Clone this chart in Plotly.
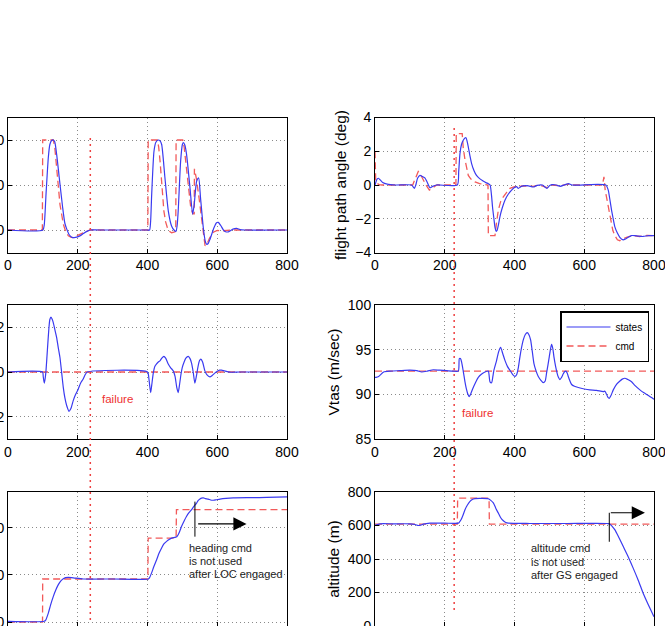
import plotly.graph_objects as go

# ---------------- data ----------------
# top-left (left y labels cropped)
tl_state_t = [0, 100, 104, 109, 115.6, 120, 125, 130, 134, 139.5, 147, 156.7, 163, 168, 175, 182.5, 190, 197, 206, 216, 226, 236, 260,
              400, 406, 409, 412, 418.6, 424, 431, 436, 440.6, 450, 459.7, 469, 476, 481.7, 485, 488, 495, 500, 503, 507, 512, 521.8,
              529.4, 534, 541, 546.6, 552, 560, 566, 570, 574, 579, 590.6, 598, 603, 610, 617, 624, 631.7, 645, 655.6, 665, 680, 800]
tl_state_v = [0, 0, 1.2, 7.9, 16.1, 19, 19.9, 20, 19.6, 16.8, 11.6, 5, 1.5, 0.3, -1.0, -1.6, -1.7, -1.6, -1.3, -0.8, -0.3, 0, 0,
              0, 0, 2, 7.9, 17.5, 19.5, 20, 19.8, 19, 11.6, 4.2, 0.9, 0, -0.3, 1, 4.2, 15.3, 19, 19.4, 18.9, 16.8, 9.4,
              3.5, 5.7, 10.9, 11.6, 7.2, 0.5, -2.6, -3.2, -3.0, -2.1, 0.5, 1.6, 1.7, 1.0, 0.1, -0.4, -0.4, 0.2, 0.35, 0.1, 0, 0]
tl_cmd_t = [0, 98.5, 99.5, 130, 134, 139.5, 149, 158.6, 166, 173, 180, 187, 195, 201.6, 210, 220.8, 235,
            401, 402, 428, 432, 436, 441, 447, 452, 457, 463, 469, 476, 481, 482, 501, 505, 510, 517, 524, 530, 534,
            534.5, 540, 548, 556, 561, 565, 570, 578, 588.7, 600, 612, 625, 640, 800]
tl_cmd_v = [0, 0, 20, 20, 18.5, 13.1, 5.7, 1.3, -0.5, -1.3, -1.6, -1.7, -1.5, -1.1, -0.8, -0.4, 0,
            0, 20, 20, 18.5, 15.3, 9.4, 4.2, 1.8, 0.5, -0.3, -0.6, -0.5, -0.3, 20, 20, 18.5, 15.3, 10.1, 5, 3.6, 3.6,
            13.6, 11.5, 7, 1.5, -2, -3.5, -3.2, -1.8, -0.5, -0.1, -0.2, -0.1, 0, 0]

# top-right: flight path angle (deg)
tr_state_t = [0, 3, 6, 10, 15, 22, 35, 60, 105, 109, 113, 117, 122, 129, 136, 143, 150, 157.7, 165, 177, 236, 240, 243.6, 248, 253,
              258, 261, 264, 267.5, 272, 277, 284, 291, 300, 310, 318, 325, 330, 334, 337, 341, 344, 347.5, 350, 354, 358, 365,
              372.6, 382, 391.7, 400, 406, 411, 418, 425, 440, 454, 465, 480, 493, 500, 507, 520, 531, 545, 555, 565, 662,
              668.8, 673, 678.4, 683, 688, 695, 702, 711.6, 718, 725.9, 735, 745, 755, 769, 785, 800]
tr_state_v = [0, 0.2, 0.35, 0.4, 0.3, 0.15, 0.05, 0, 0, -0.1, -0.2, 0, 0.4, 0.57, 0.5, 0.42, 0.15, -0.16, -0.08, 0, 0, 0.8, 1.86, 2.4, 2.65,
              2.78, 2.8, 2.6, 2.26, 1.75, 1.27, 0.85, 0.57, 0.38, 0.24, 0.14, 0.08, 0, -0.6, -1.3, -2.0, -2.5, -2.75, -2.7, -2.35, -1.9, -1.35,
              -0.9, -0.55, -0.3, -0.15, -0.1, -0.2, -0.1, -0.05, -0.05, -0.12, -0.02, 0, -0.2, -0.05, 0.02, 0, -0.08, 0.02, 0.08, 0, 0,
              -0.3, -0.8, -1.5, -2.0, -2.5, -2.85, -3.1, -3.25, -3.2, -3.1, -3.0, -3.0, -3.03, -3.05, -3.0, -3.0]
tr_cmd_t = [0, 2, 5, 12, 20, 108, 112, 118, 124, 130, 138, 146, 155.8, 163, 170, 177, 232, 233, 250, 253, 258, 263, 267.5, 275, 286.6,
            300, 310.5, 324, 325, 344, 348, 353.5, 360, 367.9, 377, 387, 400, 411, 420, 454, 470, 493, 507, 531, 555, 565, 652,
            656.5, 660, 668, 675.7, 682, 688, 695, 702, 712, 721, 740, 759, 780, 800]
tr_cmd_v = [2.0, 0.3, 0.1, 0.02, 0, 0, 0.2, 0.55, 0.8, 0.65, 0.3, 0, -0.3, -0.2, -0.05, 0, 0, 3.05, 3.05, 2.2, 1.5, 1.0, 0.57, 0.35, 0.18,
            0.08, 0.04, 0, -3.0, -3.0, -2.3, -1.5, -1.0, -0.7, -0.45, -0.2, -0.1, -0.15, -0.05, -0.08, 0, -0.15, 0, -0.05, 0.05, 0, 0,
            0.48, -0.3, -1.2, -2.1, -2.7, -3.0, -3.25, -3.3, -3.2, -3.1, -3.0, -3.05, -2.98, -3.0]

# middle-left (left y labels cropped)
ml_state_t = [0, 99, 101, 104, 106.5, 109, 113, 117, 120, 123.3, 127, 130, 135, 139.5, 144, 149, 154, 158.6, 163, 168.2, 174.9, 180,
              187.3, 194, 201.6, 208, 215.9, 222, 227.4, 400, 404, 409, 412, 416.6, 421, 426, 431, 435.7, 441, 447, 452, 459.5,
              466, 473.8, 479, 484, 488, 492, 496, 499.6, 505, 510, 516.8, 522, 526.3, 531, 535.8, 540, 545, 549, 553, 558,
              564.5, 570, 578.8, 586, 593, 600, 607, 612.2, 620, 636, 665, 800]
ml_state_v = [0, 0, -0.2, -0.5, -0.3, 0.06, 1.0, 1.9, 2.35, 2.46, 2.35, 2.2, 1.85, 1.54, 1.1, 0.65, -0.05, -0.7, -1.15, -1.5, -1.76, -1.65,
              -1.27, -1.0, -0.76, -0.5, -0.3, -0.1, 0, 0, -0.3, -0.92, -0.6, -0.05, 0.25, 0.36, 0.45, 0.5, 0.62, 0.7, 0.62, 0.36,
              0.2, 0.05, -0.2, -0.7, -0.92, -0.55, -0.1, 0.2, 0.45, 0.62, 0.7, 0.6, 0.4, 0.0, -0.5, -0.2, 0.25, 0.5, 0.58, 0.45,
              0.05, -0.12, -0.22, -0.15, -0.05, 0.03, 0.08, 0.08, 0.05, -0.01, 0, 0]
ml_cmd_t = [0, 800]
ml_cmd_v = [0, 0]

# middle-right: Vtas (m/sec)
mr_state_t = [0, 3, 10.5, 24.8, 43.9, 70, 100, 120, 133.8, 150, 167.2, 185, 205, 224.5, 238.9, 241.8, 245, 248.4, 253, 258, 262, 265.6,
              270.4, 275, 279.9, 288, 296.2, 305, 315.3, 324.8, 329.7, 334.4, 338, 341, 348.7, 354, 360.2, 366, 372.6, 380, 386.9,
              395, 401.3, 406, 411, 415.6, 420, 425.2, 431, 436.6, 441, 446.2, 451, 455.8, 462, 468.2, 475, 482.6, 488, 492, 496,
              499.7, 503, 506.4, 510, 513.1, 518, 522.7, 526, 530.3, 535, 539.9, 544, 547.5, 551, 554.2, 559, 563.8, 572, 582.9,
              600, 616.3, 635, 654.5, 659.3, 664, 668, 671.7, 677, 683.2, 692, 702.3, 709, 716.6, 725, 735.7, 745, 759.6, 770,
              785, 797.8, 800]
mr_state_v = [91.9, 91.9, 92.0, 92.5, 92.6, 92.65, 92.7, 92.65, 92.5, 92.6, 92.75, 92.7, 92.65, 92.6, 92.6, 94.0, 94.0, 93.6, 92.6, 91.4,
              90.6, 90.1, 89.75, 90.1, 90.6, 91.3, 91.9, 92.25, 92.5, 92.6, 91.4, 91.3, 92.0, 92.7, 93.8, 94.7, 95.25, 94.6, 93.8,
              93.1, 92.7, 92.2, 92.0, 92.2, 93.0, 94.2, 95.2, 96.1, 96.7, 96.9, 96.7, 96.1, 94.8, 93.45, 92.6, 92.0, 91.6, 91.3,
              91.5, 92.4, 93.3, 94.2, 95.0, 95.6, 95.1, 94.2, 93.1, 92.3, 91.9, 91.65, 91.9, 92.3, 92.55, 92.6, 92.4, 92.0, 91.5,
              91.1, 90.9, 90.76, 90.6, 90.5, 90.45, 90.3, 90.35, 90.0, 89.65, 89.55, 89.9, 90.5, 91.1, 91.5, 91.7, 91.8, 91.65,
              91.4, 91.0, 90.5, 90.2, 89.85, 89.5, 89.45]
mr_cmd_t = [0, 800]
mr_cmd_v = [92.6, 92.6]

# bottom-left (left y labels cropped)
bl_state_t = [0, 104, 108, 115.6, 122, 130, 137, 144.3, 151, 158.6, 165, 172.9, 182, 192, 215.9, 300, 402.3, 406, 411.8, 418, 426.2,
              433, 440.5, 447, 454.8, 462, 469.2, 478.7, 484, 488.3, 493, 497.8, 505, 512.1, 519, 526.5, 533, 540.8, 545, 550.4,
              555, 559.9, 566, 574.3, 581, 588.6, 597, 607.7, 625, 645.9, 700, 741.4, 800]
bl_state_v = [0.3, 0.3, 0.8, 3.8, 7.2, 10.9, 13.6, 15.9, 17.4, 18.4, 18.9, 19.0, 18.9, 18.7, 18.3, 18.3, 18.3, 18.9, 20.9, 23.5, 26.5,
              29.2, 31.5, 33.2, 34.3, 35.1, 35.7, 36, 36.3, 37.2, 38.8, 40.7, 43.0, 45, 46.5, 47.8, 49.2, 50.6, 51.6, 52.3,
              52.7, 52.8, 52.5, 52.3, 51.9, 51.8, 52.0, 52.3, 52.6, 52.8, 52.9, 53, 53.2]
bl_cmd_t = [0, 99, 99.5, 401, 402, 482, 483, 800]
bl_cmd_v = [0, 0, 18.3, 18.3, 35.7, 35.7, 47.8, 47.8]

# bottom-right: altitude (m)
br_state_t = [0, 2, 14.3, 50, 100, 115, 124, 131, 138.4, 157.6, 200, 239, 242, 246.6, 252, 258, 265, 272.4, 279, 286.7, 300, 324.9,
              332, 339.3, 346, 353.6, 360, 368, 375, 382.3, 444.4, 550, 664.2, 668, 673.8, 680, 688, 700, 711.9, 725, 740.6, 755,
              769.2, 783, 797.9, 800]
br_state_v = [600, 602, 610, 610, 610, 606, 600, 602, 608, 614, 614, 614, 620, 634, 660, 694, 722, 744, 755, 760, 762, 760,
              750, 735, 705, 674, 648, 628, 618, 614, 612, 612, 612, 611, 608, 595, 574, 525, 474, 418, 344, 272,
              194, 130, 64, 55]
br_cmd_t = [0, 236, 237, 327, 328, 800]
br_cmd_v = [608, 608, 764, 764, 608, 608]

# event / annotation positions (data units)
failure_t_left = 236
failure_t_right = 227
bl_marker_t, bl_marker_y = 536, [36.3, 51.2]
bl_arrow_t, bl_arrow_y = [541, 684], 41.7
br_marker_t, br_marker_y = 671.8, [503, 676]
br_arrow_t, br_arrow_y = [671.8, 774], 676
bl_note = ["heading cmd", "is not used", "after LOC engaged"]
bl_note_t, bl_note_y = 512, [31.4, 26.0, 20.3]
br_note = ["altitude cmd", "is not used", "after GS engaged"]
br_note_t, br_note_y = 442, [464, 384, 304]
fail_ml = (264, -1.2)
fail_mr = (244, 87.9)

# ---------------- styling ----------------
W, H = 665, 626
BLUE = "#3a3af0"
RED = "#f25a5a"
FONT = "Liberation Sans, Arial, Helvetica, sans-serif"

def px_x(a, b):
    return [a / W, b / W]

def px_y(top, bottom):
    return [(H - bottom) / H, (H - top) / H]

xdom_l = px_x(8, 287)
xdom_r = px_x(375, 654)
ydom = [px_y(117.5, 252.5), px_y(305, 439), px_y(492, 626)]

fig = go.Figure()

panels = [
    ("x", "y", tl_state_t, tl_state_v, tl_cmd_t, tl_cmd_v, False),
    ("x2", "y2", tr_state_t, tr_state_v, tr_cmd_t, tr_cmd_v, False),
    ("x3", "y3", ml_state_t, ml_state_v, ml_cmd_t, ml_cmd_v, False),
    ("x4", "y4", mr_state_t, mr_state_v, mr_cmd_t, mr_cmd_v, True),
    ("x5", "y5", bl_state_t, bl_state_v, bl_cmd_t, bl_cmd_v, False),
    ("x6", "y6", br_state_t, br_state_v, br_cmd_t, br_cmd_v, False),
]
for xa, ya, st, sv, ct, cv, leg in panels:
    fig.add_trace(go.Scatter(x=ct, y=cv, xaxis=xa, yaxis=ya, mode="lines", name="cmd",
                             line=dict(color=RED, width=1.3, dash="7px,4px"), showlegend=leg, legendrank=2))
    fig.add_trace(go.Scatter(x=st, y=sv, xaxis=xa, yaxis=ya, mode="lines", name="states",
                             line=dict(color=BLUE, width=1.2, shape="spline", smoothing=0.6),
                             showlegend=leg, legendrank=1))

def axis(domain, anchor, rng, tickvals, title=None):
    d = dict(domain=domain, anchor=anchor, range=rng, tickvals=tickvals,
             showline=True, mirror=True, linecolor="black", linewidth=1,
             ticks="inside", ticklen=4, tickcolor="black",
             showgrid=True, gridcolor="#8a8a8a", griddash="1px,3px", gridwidth=1,
             zeroline=False, automargin=False, ticklabeloverflow="allow",
             tickfont=dict(family=FONT, size=14, color="black"))
    if title:
        d["title"] = dict(text=title, font=dict(family=FONT, size=15.5, color="black"), standoff=4)
    return d

xt = [0, 200, 400, 600, 800]
layout = dict(
    width=W, height=H, margin=dict(l=0, r=0, t=0, b=0),
    paper_bgcolor="white", plot_bgcolor="white", template="none",
    font=dict(family=FONT, color="black"),
    xaxis=axis(xdom_l, "y", [0, 800], xt),
    yaxis=axis(ydom[0], "x", [-5, 25], [0, 10, 20]),
    xaxis2=axis(xdom_r, "y2", [0, 800], xt),
    yaxis2=axis(ydom[0], "x2", [-4, 4], [-4, -2, 0, 2, 4], "flight path angle (deg)"),
    xaxis3=axis(xdom_l, "y3", [0, 800], xt),
    yaxis3=axis(ydom[1], "x3", [-3, 3], [-2, 0, 2]),
    xaxis4=axis(xdom_r, "y4", [0, 800], xt),
    yaxis4=axis(ydom[1], "x4", [85, 100], [85, 90, 95, 100], "Vtas (m/sec)"),
    xaxis5=axis(xdom_l, "y5", [0, 800], xt),
    yaxis5=axis(ydom[2], "x5", [-1.7, 55.3], [0, 20, 40]),
    xaxis6=axis(xdom_r, "y6", [0, 800], xt),
    yaxis6=axis(ydom[2], "x6", [0, 800], [0, 200, 400, 600, 800], "altitude (m)"),
    legend=dict(x=560 / W, y=(H - 311) / H, xanchor="left", yanchor="top",
                bgcolor="white", bordercolor="black", borderwidth=1.5,
                font=dict(family=FONT, size=10, color="black"), traceorder="normal",
                itemwidth=44, tracegroupgap=0),
)
fig.update_layout(**layout)

shapes = [
    dict(type="line", xref="x", yref="paper", x0=failure_t_left, x1=failure_t_left,
         y0=(H - 620) / H, y1=(H - 136.7) / H, line=dict(color="#ee4040", width=1.5, dash="2px,4px"), layer="above"),
    dict(type="line", xref="x2", yref="paper", x0=failure_t_right, x1=failure_t_right,
         y0=(H - 610) / H, y1=(H - 126.7) / H, line=dict(color="#ee4040", width=1.5, dash="2px,4px"), layer="above"),
    dict(type="line", xref="x5", yref="y5", x0=bl_marker_t, x1=bl_marker_t, y0=bl_marker_y[0], y1=bl_marker_y[1],
         line=dict(color="black", width=1)),
    dict(type="line", xref="x6", yref="y6", x0=br_marker_t, x1=br_marker_t, y0=br_marker_y[0], y1=br_marker_y[1],
         line=dict(color="black", width=1)),
]
fig.update_layout(shapes=shapes)

ann = []
ann.append(dict(xref="x5", yref="y5", axref="x5", ayref="y5", x=bl_arrow_t[1], y=bl_arrow_y,
                ax=bl_arrow_t[0], ay=bl_arrow_y, text="", showarrow=True, arrowhead=2,
                arrowsize=2.2, arrowwidth=1.2, arrowcolor="black"))
ann.append(dict(xref="x6", yref="y6", axref="x6", ayref="y6", x=br_arrow_t[1], y=br_arrow_y,
                ax=br_arrow_t[0], ay=br_arrow_y, text="", showarrow=True, arrowhead=2,
                arrowsize=2.2, arrowwidth=1.2, arrowcolor="black"))
for txt, yv in zip(bl_note, bl_note_y):
    ann.append(dict(xref="x5", yref="y5", x=bl_note_t, y=yv, text=txt, showarrow=False,
                    xanchor="left", yanchor="middle", font=dict(family=FONT, size=11, color="#222")))
for txt, yv in zip(br_note, br_note_y):
    ann.append(dict(xref="x6", yref="y6", x=br_note_t, y=yv, text=txt, showarrow=False,
                    xanchor="left", yanchor="middle", font=dict(family=FONT, size=11, color="#222")))
ann.append(dict(xref="x3", yref="y3", x=fail_ml[0], y=fail_ml[1], text="failure", showarrow=False,
                xanchor="left", yanchor="middle", font=dict(family=FONT, size=11.5, color="#ee3030")))
ann.append(dict(xref="x4", yref="y4", x=fail_mr[0], y=fail_mr[1], text="failure", showarrow=False,
                xanchor="left", yanchor="middle", font=dict(family=FONT, size=11.5, color="#ee3030")))
fig.update_layout(annotations=ann)

fig.write_html("out.html")
